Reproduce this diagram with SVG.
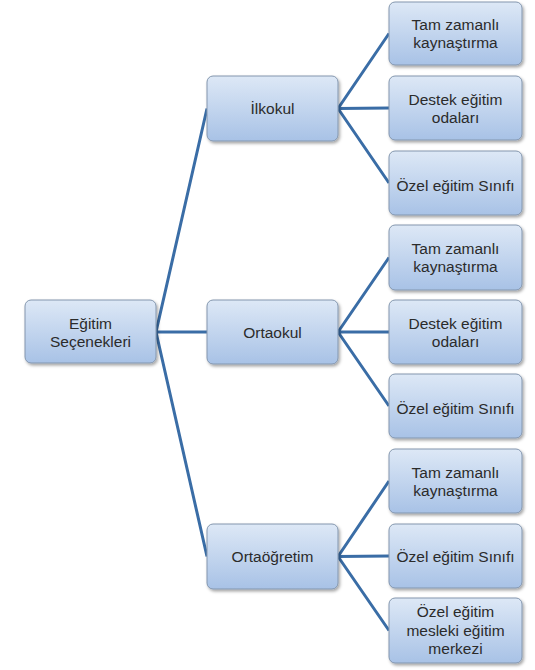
<svg xmlns="http://www.w3.org/2000/svg" width="535" height="670" viewBox="0 0 535 670">
<defs>
<linearGradient id="g" x1="0" y1="0" x2="0" y2="1">
<stop offset="0" stop-color="#dde8f6"/>
<stop offset="1" stop-color="#a8c2e6"/>
</linearGradient>
<filter id="sh" x="-10%" y="-10%" width="125%" height="130%">
<feDropShadow dx="1.5" dy="2" stdDeviation="1.5" flood-color="#000" flood-opacity="0.35"/>
</filter>
<style>
.box{fill:url(#g);stroke:#8396ae;stroke-width:1;filter:url(#sh)}
.t{font-family:"Liberation Sans",Arial,sans-serif;font-size:15.5px;fill:#2b2b2b;text-anchor:middle}
.c{stroke:#3a6da6;stroke-width:3;fill:none}
</style>
</defs>
<rect width="535" height="670" fill="#fff"/>
<g id="connectors">
<path class="c" d="M156 332 L207 108.5 M156 332 L207 332 M156 332 L207 556.5"/>
<path class="c" d="M338 108.5 L389 33.5 M338 108.5 L389 108 M338 108.5 L389 183"/>
<path class="c" d="M338 332 L389 257.5 M338 332 L389 332 M338 332 L389 406"/>
<path class="c" d="M338 556.5 L389 481 M338 556.5 L389 556 M338 556.5 L389 630.5"/>
</g>
<g id="root"><rect class="box" x="25" y="300" width="131" height="63" rx="6"/><text class="t" x="90.5" y="329">Eğitim</text><text class="t" x="90.5" y="347">Seçenekleri</text></g>
<g id="ilkokul"><rect class="box" x="207" y="76" width="131" height="65" rx="6"/><text class="t" x="272.5" y="114">İlkokul</text></g>
<g id="ortaokul"><rect class="box" x="207" y="300" width="131" height="64" rx="6"/><text class="t" x="272.5" y="337.5">Ortaokul</text></g>
<g id="ortaogretim"><rect class="box" x="207" y="524" width="131" height="65" rx="6"/><text class="t" x="272.5" y="562">Ortaöğretim</text></g>
<g id="leaf1"><rect class="box" x="389" y="2" width="133" height="63" rx="6"/><text class="t" x="455.5" y="30">Tam zamanlı</text><text class="t" x="455.5" y="48">kaynaştırma</text></g>
<g id="leaf2"><rect class="box" x="389" y="76" width="133" height="64" rx="6"/><text class="t" x="455.5" y="105">Destek eğitim</text><text class="t" x="455.5" y="123">odaları</text></g>
<g id="leaf3"><rect class="box" x="389" y="151" width="133" height="64" rx="6"/><text class="t" x="455.5" y="191">Özel eğitim Sınıfı</text></g>
<g id="leaf4"><rect class="box" x="389" y="225" width="133" height="65" rx="6"/><text class="t" x="455.5" y="254">Tam zamanlı</text><text class="t" x="455.5" y="272">kaynaştırma</text></g>
<g id="leaf5"><rect class="box" x="389" y="300" width="133" height="64" rx="6"/><text class="t" x="455.5" y="329">Destek eğitim</text><text class="t" x="455.5" y="347">odaları</text></g>
<g id="leaf6"><rect class="box" x="389" y="374" width="133" height="64" rx="6"/><text class="t" x="455.5" y="414">Özel eğitim Sınıfı</text></g>
<g id="leaf7"><rect class="box" x="389" y="449" width="133" height="64" rx="6"/><text class="t" x="455.5" y="478">Tam zamanlı</text><text class="t" x="455.5" y="496">kaynaştırma</text></g>
<g id="leaf8"><rect class="box" x="389" y="524" width="133" height="64" rx="6"/><text class="t" x="455.5" y="562">Özel eğitim Sınıfı</text></g>
<g id="leaf9"><rect class="box" x="389" y="598" width="133" height="65" rx="6"/><text class="t" x="455.5" y="617">Özel eğitim</text><text class="t" x="455.5" y="635.5">mesleki eğitim</text><text class="t" x="455.5" y="654">merkezi</text></g>
</svg>
